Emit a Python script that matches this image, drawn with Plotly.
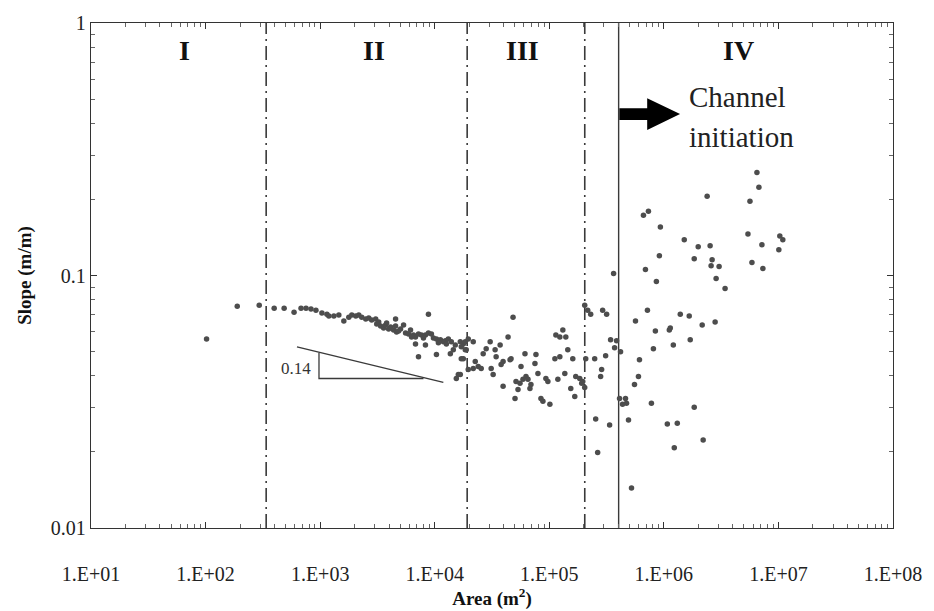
import math
import plotly.graph_objects as go

# ---- data ----
area = [
    102, 189, 294, 397, 485, 592, 681, 753, 832, 919,
    1036, 1146, 1192, 1318, 1456, 1610, 1779, 1889, 2047, 2174,
    2307, 2500, 2655, 2818, 3053, 3117, 3374, 3583, 3729, 3960,
    4121, 4377, 4555, 4648, 5035, 5346, 5564, 5910, 6150, 6530,
    6795, 7217, 7660, 8300, 8815, 9360, 9743, 10350, 11210, 11900,
    12390, 13150, 13960, 15120, 6795, 8300, 7217, 10350, 13690, 14530,
    4555, 8815, 18480, 17060, 16070, 15440,
    3243, 3805, 4838, 6280, 7975, 10770, 12640, 16720, 17760,
    # region III
    48270, 18480, 19620, 21690, 17060, 18850, 17760, 22580, 23970, 21690,
    25460, 16720, 19620, 26490, 28130, 30480, 33670, 34360, 37220, 43680,
    39520, 37980, 31100, 32360, 39520, 46380, 45460, 51250, 55520, 53340,
    50230, 58950, 62600, 65150, 61350, 56640, 74990, 76500, 79600, 69180,
    67800, 84540, 87990, 93420, 97230, 101200, 114100, 123600, 131300, 139400,
    111900, 123600, 118800, 136600, 145000, 160300, 154000, 166900, 170200, 184400,
    195900, 203800, 216400, 229800, 208000, 249000,
    # around channel initiation
    913800, 1.841e6, 690600, 364100, 860600, 292200, 316600, 718900, 1.391e6, 1.665e6,
    565300, 843600, 1.116e6, 1.138e6, 1.699e6, 342800, 386600, 371500, 418800, 810500,
    1.209e6, 310300, 612400, 286400, 280700, 191900, 203800, 600300, 554100, 410400,
    462700, 472100, 435900, 778700, 1.841e6, 254100, 336100, 491400, 1.072e6, 1.310e6,
    264400, 1.233e6, 521800, 2.203e6,
    # region IV
    6.492e6, 6.757e6, 2.386e6, 5.643e6, 5.421e6, 1.028e7, 1.092e7, 1.507e6, 1.994e6, 2.534e6,
    7.175e6, 1.008e7, 2.638e6, 2.585e6, 3.035e6, 5.873e6, 7.318e6, 2.858e6, 3.423e6, 2.160e6,
    2.801e6, 663500, 733400, 932300,
]
slope = [
    0.0561, 0.0756, 0.0763, 0.0742, 0.0742, 0.0716, 0.0742, 0.0742, 0.0736, 0.0729,
    0.0710, 0.0703, 0.0691, 0.0691, 0.0697, 0.0660, 0.0684, 0.0697, 0.0691, 0.0697,
    0.0684, 0.0672, 0.0678, 0.0666, 0.0672, 0.0643, 0.0631, 0.0620, 0.0637, 0.0614,
    0.0625, 0.0608, 0.0631, 0.0598, 0.0614, 0.0637, 0.0592, 0.0587, 0.0608, 0.0581,
    0.0571, 0.0587, 0.0581, 0.0581, 0.0592, 0.0587, 0.0566, 0.0561, 0.0556, 0.0546,
    0.0551, 0.0561, 0.0546, 0.0531, 0.0536, 0.0531, 0.0477, 0.0486, 0.0490, 0.0508,
    0.0672, 0.0703, 0.0508, 0.0468, 0.0405, 0.0391,
    0.0654, 0.0648, 0.0603, 0.0571, 0.0566, 0.0541, 0.0536, 0.0546, 0.0536,
    # region III
    0.0684, 0.0546, 0.0561, 0.0546, 0.0522, 0.0508, 0.0468, 0.0456, 0.0436, 0.0428,
    0.0428, 0.0405, 0.0424, 0.0490, 0.0513, 0.0546, 0.0508, 0.0477, 0.0531, 0.0571,
    0.0456, 0.0444, 0.0428, 0.0405, 0.0364, 0.0468, 0.0464, 0.0380, 0.0374, 0.0354,
    0.0326, 0.0388, 0.0398, 0.0388, 0.0490, 0.0436, 0.0448, 0.0486, 0.0409, 0.0370,
    0.0357, 0.0326, 0.0318, 0.0391, 0.0380, 0.0309, 0.0581, 0.0571, 0.0608, 0.0571,
    0.0468, 0.0477, 0.0388, 0.0409, 0.0508, 0.0468, 0.0357, 0.0332, 0.0398, 0.0391,
    0.0380, 0.0763, 0.0729, 0.0703, 0.0468, 0.0468,
    # around channel initiation
    0.1198, 0.1166, 0.1056, 0.1018, 0.0947, 0.0729, 0.0703, 0.0729, 0.0703, 0.0691,
    0.0660, 0.0603, 0.0608, 0.0620, 0.0556, 0.0556, 0.0551, 0.0517, 0.0499, 0.0513,
    0.0531, 0.0481, 0.0464, 0.0424, 0.0398, 0.0374, 0.0360, 0.0398, 0.0370, 0.0326,
    0.0326, 0.0312, 0.0309, 0.0312, 0.0301, 0.0270, 0.0256, 0.0268, 0.0258, 0.0260,
    0.0199, 0.0208, 0.0144, 0.0223,
    # region IV
    0.2557, 0.2234, 0.2059, 0.1968, 0.1461, 0.1435, 0.1384, 0.1384, 0.1299, 0.1311,
    0.1323, 0.1265, 0.1155, 0.1094, 0.1085, 0.1125, 0.1065, 0.0973, 0.0889, 0.0637,
    0.0654, 0.1734, 0.1798, 0.1557,
]

region_bounds = [338, 1.92e4, 2.04e5]      # dash-dot boundaries
channel_area = 4.03e5                        # channel initiation (solid)
region_labels = ["I", "II", "III", "IV"]
region_label_x = [0.1166, 0.3524, 0.5385, 0.8077]   # paper fraction

x_tickvals = [1e1, 1e2, 1e3, 1e4, 1e5, 1e6, 1e7, 1e8]
x_ticktext = ["1.E+01", "1.E+02", "1.E+03", "1.E+04", "1.E+05", "1.E+06", "1.E+07", "1.E+08"]
y_tickvals = [0.01, 0.1, 1]
y_ticktext = ["0.01", "0.1", "1"]

# minor tick positions (2..9 within each decade)
x_minor = [k * 10 ** e for e in range(1, 8) for k in range(2, 10)]
y_minor = [k * 10 ** e for e in range(-2, 0) for k in range(2, 10)]

# slope triangle (area, slope)
tri_hyp_x = [628, 1.19e4]
tri_hyp_y = [0.0522, 0.0377]
tri_leg_x = [977, 977, 7980]
tri_leg_y = [0.0494, 0.0391, 0.0391]
tri_label = "0.14"
tri_label_pos = (620, 0.0428)

SERIF = "Liberation Serif, Times New Roman, serif"
DARK = "#3a3a3a"

fig = go.Figure()

for xb in region_bounds:
    fig.add_trace(go.Scatter(x=[xb, xb], y=[0.01, 1], mode="lines",
                             line=dict(color=DARK, width=1.6, dash="14px,5px,2px,5px"),
                             hoverinfo="skip", showlegend=False))
fig.add_trace(go.Scatter(x=[channel_area, channel_area], y=[0.01, 1], mode="lines",
                         line=dict(color=DARK, width=1.4), hoverinfo="skip", showlegend=False))

fig.add_trace(go.Scatter(x=tri_hyp_x, y=tri_hyp_y, mode="lines",
                         line=dict(color=DARK, width=1.3), showlegend=False, hoverinfo="skip"))
fig.add_trace(go.Scatter(x=tri_leg_x, y=tri_leg_y, mode="lines",
                         line=dict(color=DARK, width=1.3), showlegend=False, hoverinfo="skip"))

fig.add_trace(go.Scatter(x=area, y=slope, mode="markers",
                         marker=dict(size=5.5, color="#4d4d4d"),
                         showlegend=False))

annotations = []
for lab, xp in zip(region_labels, region_label_x):
    annotations.append(dict(x=xp, y=0.946, xref="paper", yref="paper", text=f"<b>{lab}</b>",
                            showarrow=False, font=dict(family=SERIF, size=28, color="#111"),
                            xanchor="center", yanchor="middle"))
annotations.append(dict(x=0.7432, y=0.853, xref="paper", yref="paper", text="Channel",
                        showarrow=False, font=dict(family=SERIF, size=29, color="#222"),
                        xanchor="left", yanchor="middle"))
annotations.append(dict(x=0.7432, y=0.7745, xref="paper", yref="paper", text="initiation",
                        showarrow=False, font=dict(family=SERIF, size=29, color="#222"),
                        xanchor="left", yanchor="middle"))
annotations.append(dict(x=math.log10(tri_label_pos[0]), y=math.log10(tri_label_pos[1]),
                        xref="x", yref="y", text=tri_label, showarrow=False,
                        font=dict(family=SERIF, size=17, color="#333"),
                        xanchor="center", yanchor="middle"))

arrow_path = ("M 0.6588 0.8314 L 0.6935 0.8314 L 0.6935 0.8510 L 0.7345 0.8196 "
              "L 0.6935 0.7882 L 0.6935 0.8078 L 0.6588 0.8078 Z")
shapes = [dict(type="path", xref="paper", yref="paper", path=arrow_path,
               fillcolor="#000", line=dict(color="#000", width=0))]

axis_common = dict(showgrid=False, zeroline=False, showline=True, linecolor="#333",
                   linewidth=1.3, mirror="ticks", ticks="inside", ticklen=6,
                   tickcolor="#333", tickwidth=1)

fig.update_layout(
    width=934, height=611,
    margin=dict(l=91, r=37, t=18, b=83),
    paper_bgcolor="white", plot_bgcolor="white",
    annotations=annotations, shapes=shapes,
    xaxis=dict(type="log", range=[1, 8], tickmode="array", tickvals=x_tickvals, ticktext=x_ticktext,
               tickfont=dict(family=SERIF, size=20, color="#222"),
               ticklabelstandoff=28,
               title=dict(text="<b>Area (m<sup>2</sup>)</b>", font=dict(family=SERIF, size=19, color="#111"),
                          standoff=0),
               minor=dict(ticks="inside", ticklen=4, tickcolor="#666", tickwidth=1,
                          tickmode="array", tickvals=x_minor, showgrid=False),
               **axis_common),
    yaxis=dict(type="log", range=[-2, 0], tickmode="array", tickvals=y_tickvals, ticktext=y_ticktext,
               tickfont=dict(family=SERIF, size=20, color="#222"),
               title=dict(text="<b>Slope (m/m)</b>", font=dict(family=SERIF, size=19, color="#111"),
                          standoff=14),
               minor=dict(ticks="inside", ticklen=4, tickcolor="#666", tickwidth=1,
                          tickmode="array", tickvals=y_minor, showgrid=False),
               **axis_common),
)

fig.write_html("out.html")
